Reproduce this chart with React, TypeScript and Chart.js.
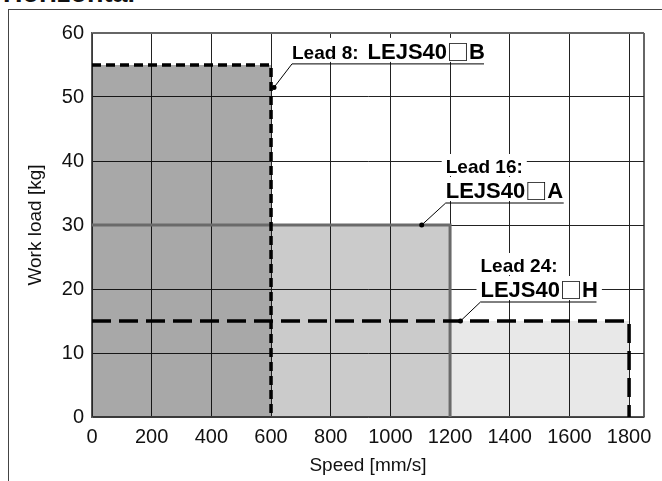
import { useEffect, useRef } from 'react';
import { Chart, registerables } from 'chart.js';

Chart.register(...registerables);

// ---- data ----
const leadLabels = ['Lead 8:', 'Lead 16:', 'Lead 24:'];
const modelLabels = ['LEJS40\u25A1B', 'LEJS40\u25A1A', 'LEJS40\u25A1H'];
const maxSpeeds = [600, 1200, 1800];
const workLoads = [55, 30, 15];
const xTicks = [0, 200, 400, 600, 800, 1000, 1200, 1400, 1600, 1800];
const yTicks = [0, 10, 20, 30, 40, 50, 60];
const calloutSpeeds = [610, 1105, 1235];
const calloutLoads = [51.5, 30, 15];

// ---- styles ----
const fillColors = ['rgba(0,0,0,0.34)', 'rgba(0,0,0,0.205)', 'rgba(0,0,0,0.09)'];
const lineColors = ['#000000', '#6a6a6a', '#000000'];
const lineWidths = [3.5, 3, 3.5];
const lineDashes: number[][] = [[9, 5], [], [19, 8]];
const calloutLayout = [
  { dx: 18, dy: -23.5, len: 192, inline: true },
  { dx: 24, dy: -22, len: 118, inline: false },
  { dx: 20, dy: -19, len: 116, inline: false },
];
const SANS = "'Liberation Sans', Arial, sans-serif";
const SMALL_FONT = "bold 19px 'Liberation Sans', Arial, sans-serif";
const BIG_FONT = "bold 22px 'Liberation Sans', Arial, sans-serif";
const BOX_FONT = "22px 'Noto Sans CJK JP', 'DejaVu Sans', sans-serif";

// draws a model label; the box glyph is set in a CJK font so it is full width
function drawModel(ctx: CanvasRenderingContext2D, text: string, x: number, base: number, measureOnly: boolean) {
  const parts = text.split('\u25A1');
  let cx = x;
  parts.forEach((p, k) => {
    ctx.font = BIG_FONT;
    if (!measureOnly) ctx.fillText(p, cx, base);
    cx += ctx.measureText(p).width;
    if (k < parts.length - 1) {
      ctx.font = BOX_FONT;
      if (!measureOnly) ctx.fillText('\u25A1', cx, base + 1);
      cx += ctx.measureText('\u25A1').width;
    }
  });
  return cx - x;
}

const calloutPlugin = {
  id: 'callouts',
  afterDatasetsDraw(chart: any) {
    const { ctx, scales } = chart;
    const xs = scales.x;
    const ys = scales.y;
    ctx.save();
    calloutSpeeds.forEach((sv, i) => {
      const px = xs.getPixelForValue(sv);
      const py = ys.getPixelForValue(calloutLoads[i]);
      const lay = calloutLayout[i];
      const ux = px + lay.dx;
      const uy = py + lay.dy;
      ctx.textAlign = 'left';
      ctx.textBaseline = 'alphabetic';
      const drawBg = (x: number, base: number, w: number, cap: number) => {
        ctx.fillStyle = '#ffffff';
        ctx.fillRect(x - 4, base - cap - 5, w + 8, cap + 8);
      };
      if (lay.inline) {
        const base = uy - 5;
        ctx.font = SMALL_FONT;
        const w1 = ctx.measureText(leadLabels[i]).width + 9;
        const w2 = drawModel(ctx, modelLabels[i], 0, 0, true);
        drawBg(ux, base, w1 + w2, 16);
        ctx.fillStyle = '#000';
        ctx.font = SMALL_FONT;
        ctx.fillText(leadLabels[i], ux, base);
        drawModel(ctx, modelLabels[i], ux + w1, base, false);
      } else {
        const b1 = uy - 30;
        const b2 = uy - 5;
        ctx.font = SMALL_FONT;
        const w1 = ctx.measureText(leadLabels[i]).width;
        const w2 = drawModel(ctx, modelLabels[i], 0, 0, true);
        drawBg(ux, b1, w1, 14);
        drawBg(ux, b2, w2, 16);
        ctx.fillStyle = '#000';
        ctx.font = SMALL_FONT;
        ctx.fillText(leadLabels[i], ux, b1);
        drawModel(ctx, modelLabels[i], ux, b2, false);
      }
      ctx.strokeStyle = '#000';
      ctx.lineWidth = 1;
      ctx.setLineDash([]);
      ctx.beginPath();
      ctx.moveTo(ux + lay.len, uy);
      ctx.lineTo(ux, uy);
      ctx.lineTo(px, py);
      ctx.stroke();
      ctx.fillStyle = '#000';
      ctx.beginPath();
      ctx.arc(px, py, 2.5, 0, Math.PI * 2);
      ctx.fill();
    });
    ctx.restore();
  },
};

export default function App() {
  const ref = useRef<HTMLCanvasElement | null>(null);

  useEffect(() => {
    if (!ref.current) return;
    const fillSets = maxSpeeds.map((s, i) => ({
      label: 'fill' + i,
      data: [
        { x: i === 0 ? 0 : maxSpeeds[i - 1], y: workLoads[i] },
        { x: s, y: workLoads[i] },
      ],
      fill: 'origin',
      backgroundColor: fillColors[i],
      borderColor: 'rgba(0,0,0,0)',
      borderWidth: 1,
      pointRadius: 0,
      order: 10,
    }));
    const lineSets = maxSpeeds.map((s, i) => ({
      label: leadLabels[i] + ' ' + modelLabels[i],
      data: [
        { x: 0, y: workLoads[i] },
        { x: s, y: workLoads[i] },
        { x: s, y: 0 },
      ],
      fill: false,
      borderColor: lineColors[i],
      borderWidth: lineWidths[i],
      borderDash: lineDashes[i],
      borderCapStyle: 'butt',
      borderJoinStyle: 'miter',
      pointRadius: 0,
      order: i === 1 ? 3 : 1,
    }));
    const chart = new Chart(ref.current, {
      type: 'line',
      data: { datasets: [...lineSets, ...fillSets] as any },
      plugins: [calloutPlugin],
      options: {
        animation: false,
        responsive: false,
        layout: { padding: { top: 33, right: 18, left: 0, bottom: 0 } },
        plugins: { legend: { display: false }, tooltip: { enabled: false } },
        scales: {
          x: {
            type: 'linear',
            min: 0,
            max: 1850,
            afterBuildTicks: (scale: any) => {
              scale.ticks = xTicks.concat([1850]).map((v) => ({ value: v }));
            },
            afterFit: (scale: any) => {
              scale.height = 64;
            },
            ticks: {
              padding: 8,
              color: '#111',
              font: { family: SANS, size: 20 },
              maxRotation: 0,
              autoSkip: false,
              callback: (v: any) => (xTicks.includes(v) ? String(v) : ''),
            },
            grid: {
              color: (c: any) => (c.tick && c.tick.value === 1850 ? '#666' : '#222'),
              lineWidth: (c: any) => (c.tick && c.tick.value === 1850 ? 2 : 1),
              drawTicks: false,
            },
            border: { display: true, color: '#555', width: 1.5 },
            title: {
              display: true,
              text: 'Speed [mm/s]',
              color: '#111',
              font: { family: SANS, size: 19 },
              padding: { top: 0, bottom: 4 },
            },
          },
          y: {
            type: 'linear',
            min: 0,
            max: 60,
            afterBuildTicks: (scale: any) => {
              scale.ticks = yTicks.map((v) => ({ value: v }));
            },
            afterFit: (scale: any) => {
              scale.width = 92;
            },
            ticks: {
              padding: 8,
              color: '#111',
              font: { family: SANS, size: 20 },
            },
            grid: {
              color: (c: any) => (c.tick && c.tick.value === 60 ? '#666' : '#222'),
              lineWidth: (c: any) => (c.tick && c.tick.value === 60 ? 2 : 1),
              drawTicks: false,
            },
            border: { display: true, color: '#555', width: 1.5 },
            title: {
              display: true,
              text: 'Work load [kg]',
              color: '#111',
              font: { family: SANS, size: 19 },
              padding: { top: 24, bottom: 0 },
            },
          },
        },
      } as any,
    });
    return () => chart.destroy();
  }, []);

  return (
    <div style={{ position: 'fixed', left: 0, top: 0, width: 662, height: 481, overflow: 'hidden', background: '#fff' }}>
      <div
        style={{
          position: 'absolute',
          left: 3,
          top: -20,
          font: "bold 27px 'Liberation Sans', Arial, sans-serif",
          lineHeight: '26px',
          color: '#111',
          whiteSpace: 'nowrap',
        }}
      >
        Horizontal
      </div>
      <div
        style={{
          position: 'absolute',
          left: 8,
          top: 9,
          width: 654,
          height: 472,
          boxSizing: 'border-box',
          borderLeft: '1.5px solid #444',
          borderTop: '1.5px solid #444',
        }}
      />
      <canvas ref={ref} width={662} height={481} style={{ position: 'absolute', left: 0, top: 0 }} />
    </div>
  );
}
